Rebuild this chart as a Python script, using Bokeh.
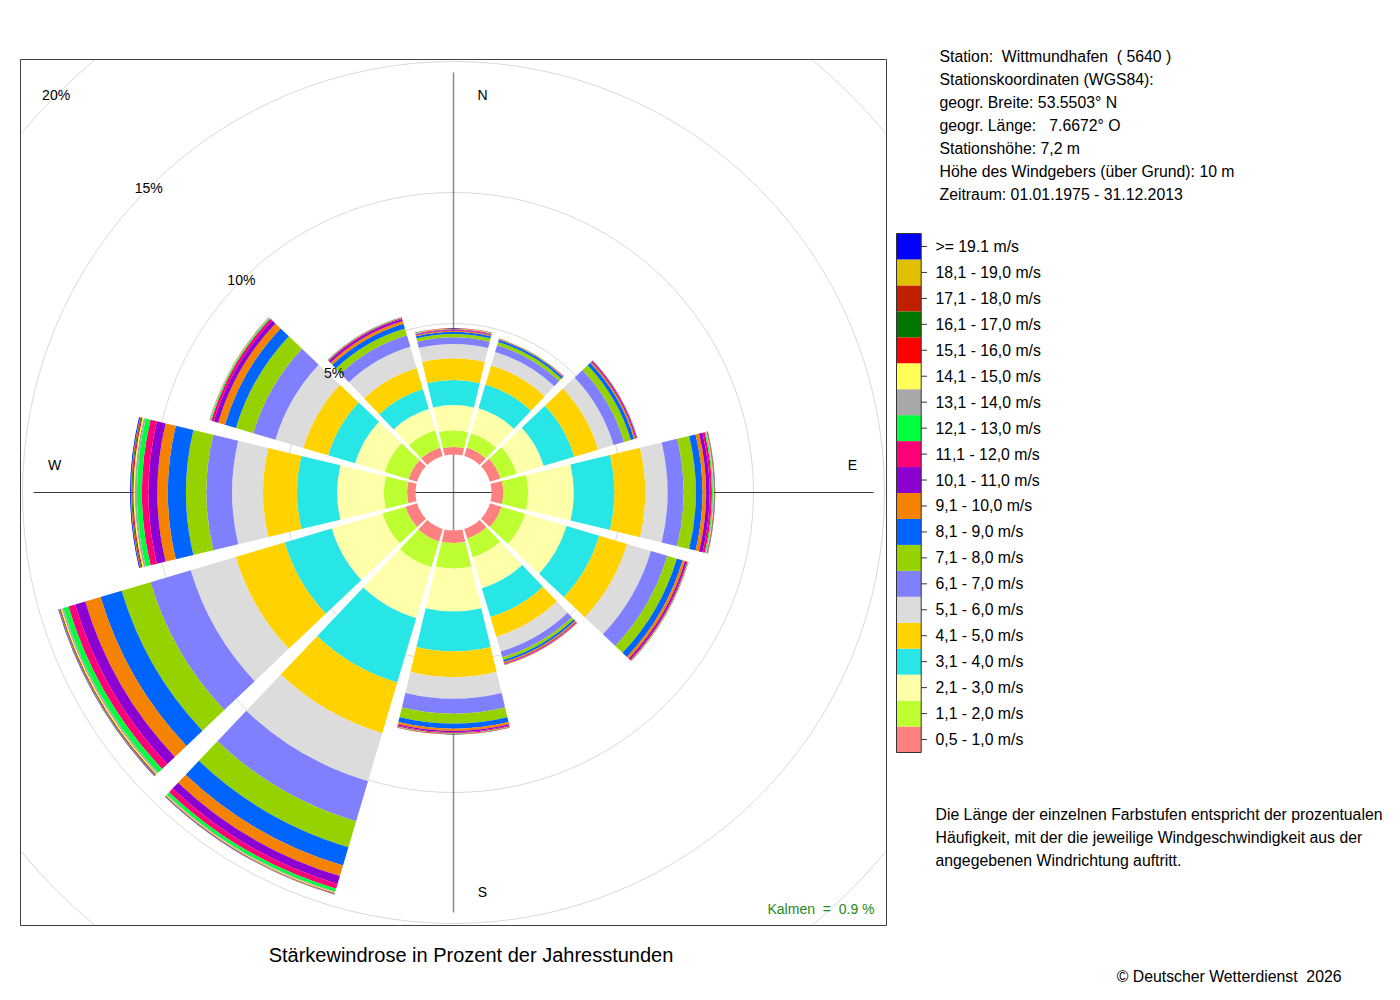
import numpy as np
from bokeh.plotting import figure
from bokeh.models import Range1d, ColumnDataSource
from bokeh.core.properties import value
from bokeh.embed import file_html
from bokeh.resources import INLINE

# ---------------- data ----------------
directions = [0, 30, 60, 90, 120, 150, 180, 210, 240, 270, 300, 330]

speed_labels = ["0,5 - 1,0 m/s", "1,1 - 2,0 m/s", "2,1 - 3,0 m/s", "3,1 - 4,0 m/s",
                "4,1 - 5,0 m/s", "5,1 - 6,0 m/s", "6,1 - 7,0 m/s", "7,1 - 8,0 m/s",
                "8,1 - 9,0 m/s", "9,1 - 10,0 m/s", "10,1 - 11,0 m/s", "11,1 - 12,0 m/s",
                "12,1 - 13,0 m/s", "13,1 - 14,0 m/s", "14,1 - 15,0 m/s", "15,1 - 16,0 m/s",
                "16,1 - 17,0 m/s", "17,1 - 18,0 m/s", "18,1 - 19,0 m/s", ">= 19.1 m/s"]

speed_colors = ["#FF8080", "#BEFF32", "#FFFFAA", "#28E6E6", "#FFD200", "#DCDCDC",
                "#8080FF", "#96D200", "#0064FF", "#F58200", "#8C00D2", "#FF0078",
                "#00FF3C", "#A8A8A8", "#FFFF55", "#FF0000", "#007800", "#C02000",
                "#E0BE00", "#0000FF"]

# percent of hours per direction sector and speed class (0,5-1,0 ... >=19,1 m/s)
freq_000 = [0.29, 0.63, 0.97, 0.95, 0.83, 0.55, 0.25, 0.13, 0.08, 0.04, 0.03, 0.025, 0.015, 0.01, 0.008, 0.007, 0.004, 0.003, 0.002, 0.004]
freq_030 = [0.34, 0.57, 0.99, 0.95, 0.76, 0.53, 0.27, 0.13, 0.08, 0.02, 0.012, 0.008, 0.006, 0.004, 0.003, 0.002, 0.001, 0.001, 0.001, 0.002]
freq_060 = [0.42, 0.65, 1.07, 1.22, 0.95, 0.61, 0.42, 0.27, 0.13, 0.06, 0.04, 0.023, 0.006, 0.003, 0.002, 0.001, 0.001, 0.001, 0.0005, 0.001]
freq_090 = [0.45, 0.95, 1.74, 1.55, 1.18, 0.85, 0.61, 0.47, 0.25, 0.14, 0.13, 0.09, 0.04, 0.025, 0.015, 0.015, 0.01, 0.008, 0.005, 0.008]
freq_120 = [0.46, 0.95, 1.64, 1.30, 1.11, 0.95, 0.65, 0.38, 0.23, 0.10, 0.06, 0.04, 0.015, 0.008, 0.005, 0.004, 0.002, 0.002, 0.001, 0.003]
freq_150 = [0.38, 0.75, 1.23, 1.15, 0.78, 0.59, 0.23, 0.11, 0.08, 0.05, 0.03, 0.02, 0.008, 0.005, 0.003, 0.003, 0.002, 0.001, 0.001, 0.002]
freq_180 = [0.48, 0.97, 1.64, 1.52, 0.99, 0.82, 0.57, 0.38, 0.19, 0.09, 0.05, 0.03, 0.02, 0.01, 0.008, 0.006, 0.004, 0.003, 0.002, 0.005]
freq_210 = [0.50, 1.03, 2.02, 2.56, 2.02, 1.91, 1.60, 1.03, 0.73, 0.42, 0.31, 0.19, 0.12, 0.04, 0.02, 0.02, 0.01, 0.01, 0.005, 0.01]
freq_240 = [0.46, 0.92, 2.02, 1.87, 1.95, 1.79, 1.60, 1.15, 0.84, 0.61, 0.40, 0.27, 0.20, 0.07, 0.04, 0.03, 0.02, 0.015, 0.01, 0.02]
freq_270 = [0.32, 0.89, 1.78, 1.53, 1.30, 1.18, 0.98, 0.78, 0.69, 0.40, 0.34, 0.25, 0.19, 0.08, 0.05, 0.04, 0.03, 0.02, 0.01, 0.03]
freq_300 = [0.34, 0.95, 1.18, 1.07, 0.99, 1.11, 0.88, 0.69, 0.44, 0.27, 0.17, 0.10, 0.04, 0.015, 0.008, 0.006, 0.004, 0.003, 0.002, 0.003]
freq_330 = [0.34, 0.69, 0.84, 0.80, 0.84, 0.84, 0.46, 0.27, 0.19, 0.11, 0.08, 0.04, 0.015, 0.006, 0.004, 0.003, 0.002, 0.002, 0.001, 0.003]

calm_pct = 0.9
grid_pcts = [5, 10, 15, 20]
compass = ["N", "E", "S", "W"]

NB = "\u00a0"  # keeps repeated blanks visible in the SVG text
station_lines = ["Station:" + NB * 2 + "Wittmundhafen" + NB * 2 + "( 5640 )",
                 "Stationskoordinaten (WGS84):",
                 "geogr. Breite: 53.5503\u00b0 N",
                 "geogr. L\u00e4nge:" + NB * 3 + "7.6672\u00b0 O",
                 "Stationsh\u00f6he: 7,2 m",
                 "H\u00f6he des Windgebers (\u00fcber Grund): 10 m",
                 "Zeitraum: 01.01.1975 - 31.12.2013"]
note_lines = ["Die L\u00e4nge der einzelnen Farbstufen entspricht der prozentualen",
              "H\u00e4ufigkeit, mit der die jeweilige Windgeschwindigkeit aus der",
              "angegebenen Windrichtung auftritt."]
title_text = "St\u00e4rkewindrose in Prozent der Jahresstunden"
copyright_text = "\u00a9 Deutscher Wetterdienst" + NB * 2 + "2026"
calm_text = "Kalmen" + NB * 2 + "=" + NB * 2 + "%.1f %%" % calm_pct

sectors = [freq_000, freq_030, freq_060, freq_090, freq_120, freq_150,
           freq_180, freq_210, freq_240, freq_270, freq_300, freq_330]

# ---------------- layout (page pixels -> percent units) ----------------
PX = 26.2          # pixels per percent
CX, CY = 453, 492  # page position of rose centre
HOLE = 38 / PX     # radius of central hole in percent units
HALF = 13.5        # half width of a sector in degrees
W, H = 1396, 990


def gx(px):
    return (px - CX) / PX


def gy(py):
    return (CY - py) / PX


p = figure(width=W, height=H, output_backend="svg", toolbar_location=None,
           x_range=Range1d(gx(0), gx(W)), y_range=Range1d(gy(H), gy(0)),
           x_axis_location=None, y_axis_location=None, min_border=0,
           outline_line_color=None)
p.xgrid.grid_line_color = None
p.ygrid.grid_line_color = None

FONT = value("Liberation Sans")
SIDE = "15.8px"


def add_text(xs, ys, texts, size, align="left", color="black", baseline="middle"):
    p.text(x=xs, y=ys, text=texts, text_font=FONT, text_font_size=value(size),
           text_align=align, text_baseline=baseline, text_color=color)


# frame half size in percent units
FH = 433 / PX

# grid circles (clipped to frame)
for g in grid_pcts:
    r = HOLE + g
    if r <= FH:
        p.arc(x=0, y=0, radius=r, start_angle=0, end_angle=2 * np.pi,
              line_color="#D9D9D9", line_width=1)
    else:
        lo, hi = np.arccos(FH / r), np.arcsin(FH / r)
        for k in range(4):
            base = k * np.pi / 2
            p.arc(x=0, y=0, radius=r, start_angle=base + lo, end_angle=base + hi,
                  line_color="#D9D9D9", line_width=1)

# axis cross
L = 420 / PX
p.segment(x0=[0], y0=[-L], x1=[0], y1=[L], line_color="#8C8C8C", line_width=1.5)
p.segment(x0=[-L], y0=[0], x1=[L], y1=[0], line_color="#3C3C3C", line_width=1)

# wedges
rows = dict(inner=[], outer=[], start=[], end=[], color=[])
for d, vals in zip(directions, sectors):
    cum = HOLE
    a0 = np.radians(90 - d - HALF)
    a1 = np.radians(90 - d + HALF)
    for v, c in zip(vals, speed_colors):
        rows["inner"].append(cum)
        rows["outer"].append(cum + v)
        rows["start"].append(a0)
        rows["end"].append(a1)
        rows["color"].append(c)
        cum += v
src = ColumnDataSource(rows)
p.annular_wedge(x=0, y=0, inner_radius="inner", outer_radius="outer",
                start_angle="start", end_angle="end", fill_color="color",
                line_color=None, source=src)

# percent labels on the circles (upper left diagonal)
lab_r = [HOLE + g for g in grid_pcts]
add_text([-r * np.sqrt(0.5) for r in lab_r], [r * np.sqrt(0.5) for r in lab_r],
         ["%d%%" % g for g in grid_pcts], "14px", align="center")

# compass labels
add_text([gx(482), gx(852), gx(482), gx(54)], [gy(94), gy(464), gy(891), gy(464)],
         compass, "14px", align="center")

# frame
p.quad(left=[gx(20)], right=[gx(886)], top=[gy(59)], bottom=[gy(925)],
       fill_color=None, line_color="#404040", line_width=1)

# calm
add_text([gx(874)], [gy(908)], [calm_text], "14px", align="right", color="#228B22")

# title & copyright
add_text([gx(470.5)], [gy(954)], [title_text], "20px", align="center")
add_text([gx(1341)], [gy(976)], [copyright_text], SIDE, align="right")

# station info
add_text([gx(939)] * len(station_lines), [gy(55.5 + 23.1 * i) for i in range(len(station_lines))],
         station_lines, SIDE)

# legend colour bar
LB_TOP, LB_BOT = 233, 752
n = len(speed_colors)
step = (LB_BOT - LB_TOP) / n
lb_bottom = [gy(LB_BOT - i * step) for i in range(n)]
lb_top = [gy(LB_BOT - (i + 1) * step) for i in range(n)]
p.quad(left=gx(896), right=gx(920.7), bottom=lb_bottom, top=lb_top,
       fill_color=speed_colors, line_color=None)
p.quad(left=[gx(896)], right=[gx(920.7)], top=[gy(LB_TOP)], bottom=[gy(LB_BOT)],
       fill_color=None, line_color="#333333", line_width=1)
mid = [gy(LB_BOT - (i + 0.5) * step) for i in range(n)]
p.segment(x0=[gx(920.7)] * n, y0=mid, x1=[gx(926.5)] * n, y1=mid,
          line_color="#333333", line_width=1)
add_text([gx(935)] * n, mid, speed_labels, SIDE)

# explanatory note
add_text([gx(935)] * len(note_lines), [gy(814 + 23 * i) for i in range(len(note_lines))],
         note_lines, SIDE)

open("out.html", "w").write(file_html(p, INLINE))
